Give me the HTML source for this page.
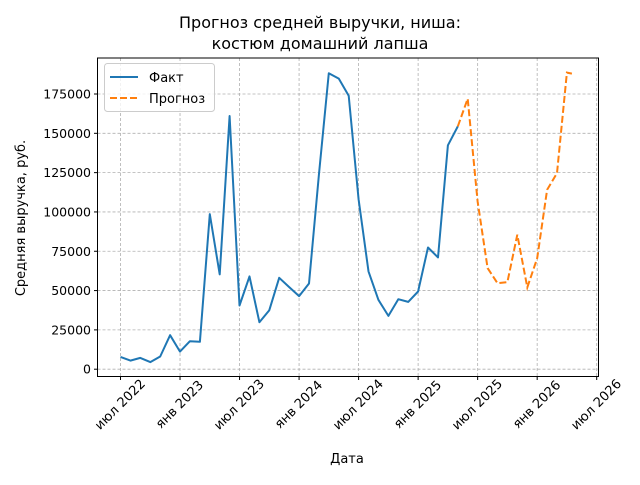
<!DOCTYPE html>
<html><head><meta charset="utf-8"><style>
body{margin:0;background:#fff}
svg{font-family:"DejaVu Sans","Liberation Sans",sans-serif}
</style></head><body>
<svg width="640" height="480" xmlns="http://www.w3.org/2000/svg">
<rect width="640" height="480" fill="#fff"/>
<g id="grid"></g>
<g id="series"></g>
<rect x="97.5" y="58" width="501" height="318.5" fill="none" stroke="#000" stroke-width="1"/>
<g id="axes"></g>
<text x="320" y="28" font-size="16" text-anchor="middle">Прогноз средней выручки, ниша:</text>
<text x="320" y="49" font-size="16" text-anchor="middle">костюм домашний лапша</text>
<text x="347" y="463" font-size="13" text-anchor="middle">Дата</text>
<text transform="translate(25,218) rotate(-90)" font-size="13" text-anchor="middle">Средняя выручка, руб.</text>
<g>
<rect x="104.5" y="63.5" width="110" height="48" rx="3" fill="#fff" fill-opacity="0.8" stroke="#ccc"/>
<line x1="110" y1="77" x2="138" y2="77" stroke="#1f77b4" stroke-width="2"/>
<text x="149" y="82" font-size="13">Факт</text>
<line x1="110" y1="98" x2="138" y2="98" stroke="#ff7f0e" stroke-width="2" stroke-dasharray="7,3"/>
<text x="149" y="103" font-size="13">Прогноз</text>
</g>
</svg>
<script>
const factMonths=[0,1,2,3,4,5,6,7,8,9,10,11,12,13,14,15,16,17,18,19,20,21,22,23,24,25,26,27,28,29,30,31,32,33,34];
const factValues=[7800,5500,7200,4500,8100,21600,11200,17800,17400,98600,60300,161000,40500,59000,29900,37500,58100,52200,46500,54500,123600,188200,184800,173900,108000,62200,44100,33900,44500,42800,49400,77400,71100,142400,154400];
const fcMonths=[34,35,36,37,38,39,40,41,42,43,44,45,45.5];
const fcValues=[154400,172000,106700,64300,54700,55400,85500,52000,70600,114100,124700,188600,188000];
const xTickMonths=[0,6,12,18,24,30,36,42,48];
const xTickLabels=["июл 2022","янв 2023","июл 2023","янв 2024","июл 2024","янв 2025","июл 2025","янв 2026","июл 2026"];
const yTicks=[0,25000,50000,75000,100000,125000,150000,175000];
const NS="http://www.w3.org/2000/svg";
const xs=m=>120.5+m*(476.2/48);
const ys=v=>369.2-v*(275.2/175000);
function mk(tag,attrs,parent){const e=document.createElementNS(NS,tag);for(const k in attrs)e.setAttribute(k,attrs[k]);parent.appendChild(e);return e;}
const grid=document.getElementById('grid'),axes=document.getElementById('axes'),series=document.getElementById('series');
xTickMonths.forEach((m,i)=>{const x=xs(m);
 const g=mk('line',{x1:x,x2:x,y1:58,y2:376.5,stroke:'#b0b0b0','stroke-dasharray':'3,2','stroke-width':0.8},grid);
 
 const t=mk('line',{x1:x,x2:x,y1:376.5,y2:380,stroke:'#000'},axes);
 
 const l=mk('text',{transform:`translate(${x},${405}) rotate(-45)`,'font-size':13,'text-anchor':'middle','dominant-baseline':'middle'},axes);
 l.textContent=xTickLabels[i];
 
});
yTicks.forEach(v=>{const y=ys(v);
 const g=mk('line',{x1:97.5,x2:598.5,y1:y,y2:y,stroke:'#b0b0b0','stroke-dasharray':'3,2','stroke-width':0.8},grid);
 
 const t=mk('line',{x1:94,x2:97.5,y1:y,y2:y,stroke:'#000'},axes);
 
 const l=mk('text',{x:91,y:y+4.5,'font-size':12.5,'text-anchor':'end'},axes);
 l.textContent=String(v);
 
});
const fp=factMonths.map((m,i)=>xs(m).toFixed(1)+','+ys(factValues[i]).toFixed(1)).join(' ');
const f=mk('polyline',{points:fp,fill:'none',stroke:'#1f77b4','stroke-width':2,'stroke-linejoin':'round'},series);

const pp=fcMonths.map((m,i)=>xs(m).toFixed(1)+','+ys(fcValues[i]).toFixed(1)).join(' ');
const p=mk('polyline',{points:pp,fill:'none',stroke:'#ff7f0e','stroke-width':2,'stroke-dasharray':'7,3'},series);

</script>
</body></html>
